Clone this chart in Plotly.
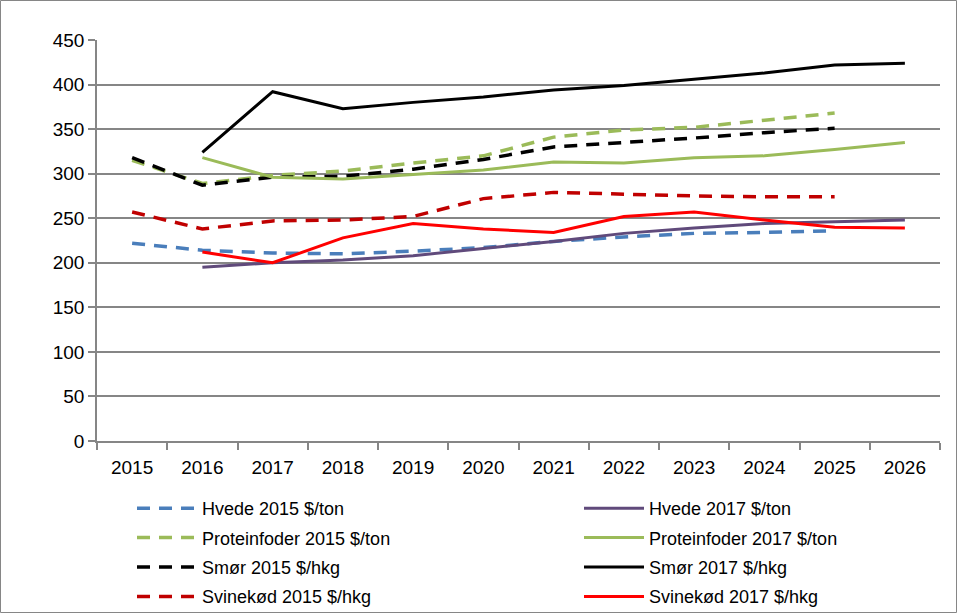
import plotly.graph_objects as go

years = [str(y) for y in range(2015, 2027)]

hvede_2015 = [222, 214, 211, 210, 213, 217, 224, 229, 233, 234, 236, None]
hvede_2017 = [None, 195, 200, 203, 208, 216, 224, 233, 239, 244, 246, 248]
protein_2015 = [315, 289, 298, 303, 312, 320, 341, 349, 352, 360, 368, None]
protein_2017 = [None, 318, 296, 294, 299, 304, 313, 312, 318, 320, 327, 335]
smor_2015 = [318, 287, 296, 297, 305, 316, 330, 335, 340, 346, 351, None]
smor_2017 = [None, 324, 392, 373, 380, 386, 394, 399, 406, 413, 422, 424]
svin_2015 = [257, 238, 247, 248, 252, 272, 279, 277, 275, 274, 274, None]
svin_2017 = [None, 212, 200, 228, 244, 238, 234, 252, 257, 248, 240, 239]

series = [
    ("Hvede 2015 $/ton", hvede_2015, "#4A7EBB", True),
    ("Proteinfoder 2015 $/ton", protein_2015, "#9BBB59", True),
    ("Smør 2015 $/hkg", smor_2015, "#000000", True),
    ("Svinekød 2015 $/hkg", svin_2015, "#C00000", True),
    ("Hvede 2017 $/ton", hvede_2017, "#604A7B", False),
    ("Proteinfoder 2017 $/ton", protein_2017, "#9BBB59", False),
    ("Smør 2017 $/hkg", smor_2017, "#000000", False),
    ("Svinekød 2017 $/hkg", svin_2017, "#FF0000", False),
]

fig = go.Figure()
for i, (name, vals, color, dashed) in enumerate(series):
    fig.add_trace(go.Scatter(
        x=years, y=vals, name=name, mode="lines",
        line=dict(color=color, width=3.5 if dashed else 3,
                  dash="13px,9px" if dashed else "solid"),
        legend="legend" if dashed else "legend2",
        legendgroup=f"g{i}",
    ))

W, H = 957, 614
L, R, T, B = 97, 17, 40, 173
pw, ph = W - L - R, H - T - B

legend_common = dict(
    orientation="v", xanchor="left", yanchor="top",
    xref="container", yref="container",
    font=dict(family="Liberation Sans, Arial, sans-serif", size=18, color="#000000"),
    itemwidth=60, tracegroupgap=3, bgcolor="rgba(0,0,0,0)",
    itemclick=False, itemdoubleclick=False,
)

fig.update_layout(
    width=W, height=H,
    margin=dict(l=L, r=R, t=T, b=B, autoexpand=False),
    paper_bgcolor="white", plot_bgcolor="white",
    font=dict(family="Liberation Sans, Arial, sans-serif", size=19, color="#000000"),
    legend=dict(x=132 / W, y=1 - 490 / H, **legend_common),
    legend2=dict(x=579 / W, y=1 - 490 / H, **legend_common),
    xaxis=dict(
        type="category", range=[-0.5, 11.5], showgrid=False, showline=True,
        linecolor="#868686", linewidth=1.5,
        ticks="outside", tickson="boundaries", ticklen=7, tickcolor="#868686", tickwidth=1.5,
        tickfont=dict(size=19), ticklabelstandoff=8, fixedrange=True,
    ),
    yaxis=dict(
        range=[0, 450], dtick=50, showgrid=True, gridcolor="#868686", gridwidth=1.5,
        showline=True, linecolor="#868686", linewidth=1.5,
        ticks="outside", ticklen=7, tickcolor="#868686", tickwidth=1.5,
        tickfont=dict(size=19), zeroline=False, fixedrange=True,
    ),
    shapes=[dict(
        type="rect", xref="paper", yref="paper", layer="below",
        x0=(0.5 - L) / pw, x1=(W - 0.5 - L) / pw,
        y0=-(H - 1.5 - T - ph) / ph, y1=(T - 0.5 + ph) / ph,
        line=dict(color="#868686", width=1), fillcolor="rgba(0,0,0,0)",
    )],
)

fig.write_html(
    "out.html",
    config={"displayModeBar": False},
    post_script="document.body.style.margin='0';document.body.style.padding='0';"
                "document.body.style.overflow='hidden';",
)
